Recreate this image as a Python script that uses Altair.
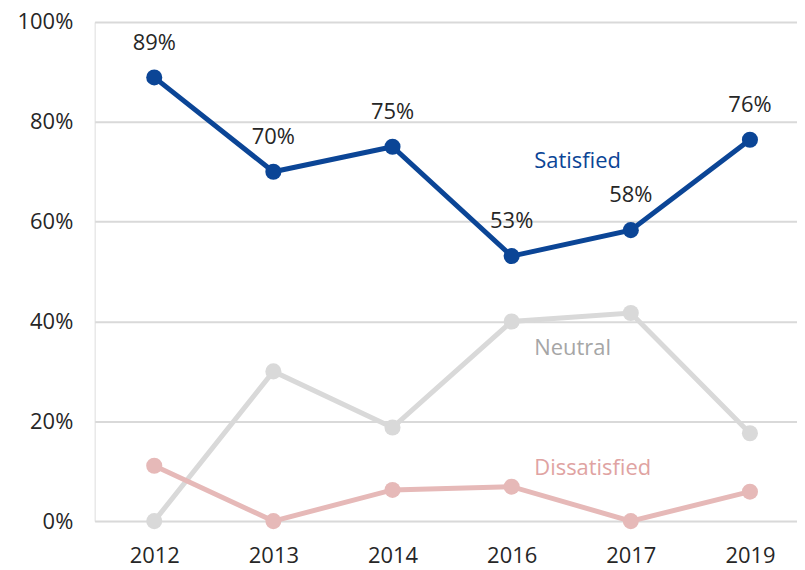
import json
import altair as alt
import pandas as pd

years = ["2012", "2013", "2014", "2016", "2017", "2019"]
satisfied = [0.889, 0.700, 0.750, 0.531, 0.583, 0.764]
neutral = [0.000, 0.300, 0.1875, 0.400, 0.417, 0.176]
dissatisfied = [0.111, 0.000, 0.0625, 0.069, 0.000, 0.059]

series_names = ["Satisfied", "Neutral", "Dissatisfied"]
series_colors = ["#0B4596", "#D9D9D9", "#E6B9B8"]
label_colors = ["#0B4596", "#A6A6A6", "#E0A3A2"]
label_x = [3.19, 3.19, 3.19]
label_y = [0.721, 0.347, 0.107]

FONT = "Open Sans"

rows = []
for name, vals in zip(series_names, [satisfied, neutral, dissatisfied]):
    for i, (yr, v) in enumerate(zip(years, vals)):
        rows.append({"idx": i, "year": yr, "value": v, "series": name})
df = pd.DataFrame(rows)

lab_df = pd.DataFrame({"series": series_names, "x": label_x, "y": label_y})

label_expr = json.dumps(years) + "[datum.value]"

x_scale = alt.Scale(domain=[-0.5, 5.395], nice=False, zero=False)
y_scale = alt.Scale(domain=[0, 1], nice=False)
color_scale = alt.Scale(domain=series_names, range=series_colors)

x_enc = alt.X(
    "idx:Q",
    scale=x_scale,
    axis=alt.Axis(
        values=list(range(len(years))),
        labelExpr=label_expr,
        grid=False,
        domain=False,
        ticks=False,
        title=None,
        labelFontSize=22,
        labelFont=FONT,
        labelColor="#262626",
        labelPadding=25,
    ),
)
y_enc = alt.Y(
    "value:Q",
    scale=y_scale,
    axis=alt.Axis(
        values=[0, 0.2, 0.4, 0.6, 0.8, 1.0],
        format=".0%",
        grid=True,
        gridColor="#D9D9D9",
        gridWidth=2,
        domain=False,
        ticks=False,
        title=None,
        labelFontSize=22,
        labelFont=FONT,
        labelColor="#262626",
        labelPadding=22,
    ),
)

base = alt.Chart(df)

lines = base.mark_line(strokeWidth=5).encode(
    x=x_enc,
    y=y_enc,
    color=alt.Color("series:N", scale=color_scale, legend=None),
    detail="series:N",
)

points = base.mark_circle(size=260, opacity=1).encode(
    x="idx:Q",
    y="value:Q",
    color=alt.Color("series:N", scale=color_scale, legend=None),
)

value_labels = (
    alt.Chart(df[df["series"] == "Satisfied"])
    .mark_text(dy=-35, fontSize=22, font=FONT, color="#262626", baseline="middle")
    .encode(x="idx:Q", y="value:Q", text=alt.Text("value:Q", format=".0%"))
)

series_labels = (
    alt.Chart(lab_df)
    .mark_text(fontSize=22, font=FONT, align="left", baseline="middle")
    .encode(
        x="x:Q",
        y="y:Q",
        text="series:N",
        color=alt.Color(
            "series:N",
            scale=alt.Scale(domain=series_names, range=label_colors),
            legend=None,
        ),
    )
)

neutral_l = lines.transform_filter("datum.series == 'Neutral'")
dis_l = lines.transform_filter("datum.series == 'Dissatisfied'")
sat_l = lines.transform_filter("datum.series == 'Satisfied'")
neutral_p = points.transform_filter("datum.series == 'Neutral'")
dis_p = points.transform_filter("datum.series == 'Dissatisfied'")
sat_p = points.transform_filter("datum.series == 'Satisfied'")

chart = (
    alt.layer(neutral_l, neutral_p, dis_l, dis_p, sat_l, sat_p, value_labels, series_labels)
    .resolve_scale(color="independent")
    .properties(
        width=705,
        height=501,
        autosize=alt.AutoSizeParams(type="none"),
        padding={"left": 87, "top": 13, "right": 0, "bottom": 46},
    )
    .configure_view(stroke=None)
    .configure(background="white")
)

chart.save("out.html", embed_options={"renderer": "svg", "actions": False})
